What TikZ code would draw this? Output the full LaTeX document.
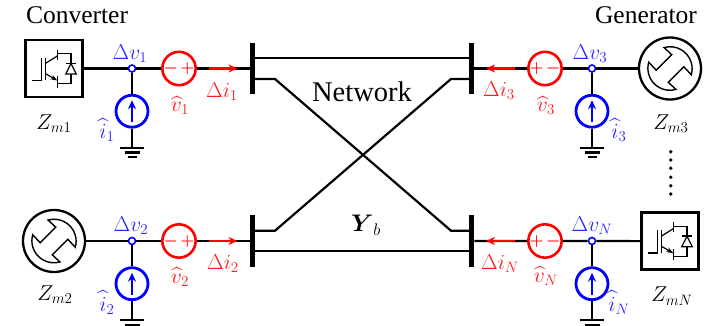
\documentclass[tikz,border=0pt]{standalone}
\usepackage{fix-cm}
\usepackage{amsmath}
\usepackage[no-math]{fontspec}
\setmainfont{Liberation Serif}
\usetikzlibrary{positioning, arrows.meta, calc}

\begin{document}
\begin{tikzpicture}[
    x=1pt, y=1pt,
    wire/.style={line width=2.2pt, black},
    bus/.style={
      rectangle, fill=black, inner sep=0pt,
      minimum width=5pt, minimum height=51.5pt,
    },
    convbox/.style={
      rectangle, draw=black, line width=2.6pt, inner sep=0pt,
      minimum size=57pt,
    },
    genbox/.style={
      circle, draw=black, line width=2.3pt, inner sep=0pt,
      minimum size=62pt,
    },
    dotnode/.style={
      circle, draw=blue, line width=1.6pt, fill=white, inner sep=0pt,
      minimum size=7pt,
    },
    csrc/.style={
      circle, draw=blue, line width=2.8pt, fill=white, inner sep=0pt,
      minimum size=32pt,
    },
    vsrc/.style={
      circle, draw=red, line width=2.6pt, fill=white, inner sep=0pt,
      minimum size=32pt, text=red, font=\fontsize{16}{18}\selectfont,
    },
    csarrow/.style={-{Stealth[length=9pt, width=8pt]}, line width=2.2pt, blue},
    current/.style={-{Stealth[length=9pt, width=8pt]}, line width=2.4pt, red},
    mathlabel/.style={font=\fontsize{21.5}{24}\selectfont, inner sep=0pt},
    bluelabel/.style={mathlabel, text=blue!85!white},
    redlabel/.style={mathlabel, text=red!90!white},
    title/.style={font=\fontsize{25.5}{30}\selectfont, inner sep=0pt},
    vdot/.style={circle, fill=black, inner sep=0pt, minimum size=3.8pt},
    glyph/.style={line width=1.2pt, black},
    ground/.pic={
      \draw[line width=2.4pt] (-11.7,0) -- (11.7,0);
      \draw[line width=2.2pt] (-7.5,-4.7) -- (7.5,-4.7);
      \draw[line width=2.2pt] (-4.5,-9.4) -- (4.5,-9.4);
    },
    igbt/.pic={
      \draw[glyph] (-22.3,-11.7) -- (-12.3,-11.7) -- (-12.3,11);
      \draw[line width=1.6pt] (-8.7,11) -- (-8.7,-11.7);
      \draw[glyph] (-8.7,5) -- (3.3,12.5);
      \draw[glyph] (3.3,19) -- (3.3,9);
      \draw[glyph] (3.3,15) -- (17,15) -- (17,-15) -- (3.3,-15);
      \draw[glyph] (3.3,-7.7) -- (3.3,-19);
      \draw[glyph, -{Stealth[length=7pt, width=5pt]}] (-8.7,-5) -- (3.3,-12);
      \draw[glyph, fill=white] (11.7,-5.5) -- (22.3,-5.5) -- (17,5) -- cycle;
      \draw[line width=1.5pt] (11.7,5) -- (22.3,5);
    },
    rotor/.pic={
      \draw[line width=1.4pt, rotate=45]
        (11,8.5) -- (10.6,19) arc[start angle=61, end angle=-61, radius=22]
        -- (11,-8.5) -- (-11,-8.5) -- (-10.6,-19)
        arc[start angle=241, end angle=119, radius=22]
        -- (-11,8.5) -- cycle;
    },
]
\useasboundingbox (0,0) rectangle (716,325);

% Buses of the network
\node[bus] (busA) at (252.3,256.5) {};
\node[bus] (busB) at (252.3,84) {};
\node[bus] (busC) at (471.7,256.5) {};
\node[bus] (busN) at (471.7,84) {};

% Network branches
\draw[wire] ([yshift=10.5pt]busA.east) -- ([yshift=10.5pt]busC.west);
\draw[wire] ([yshift=-10pt]busB.east) -- ([yshift=-10pt]busN.west);
\draw[wire] ([yshift=-10.5pt]busA.east) -- ++(20,0) -- ($(busN.west)+(-18,10.3)$) -- ([yshift=10.3pt]busN.west);
\draw[wire] ([yshift=10.3pt]busB.east) -- ++(20,0) -- ($(busC.west)+(-18,-10.5)$) -- ([yshift=-10.5pt]busC.west);
\node[font=\fontsize{28.5}{32}\selectfont, inner sep=0pt] (netname) at (362,233) {Network};
\node[font=\fontsize{24}{28}\selectfont, inner sep=0pt] (netY) at (366,100) {$\boldsymbol{Y}_b$};

% Port 1
\node[convbox] (dev1) at (54,256.5) {};
\pic at (dev1) {igbt};
\node[dotnode] (dot1) at (132,256.5) {};
\node[csrc, below=21pt of dot1] (cs1) {};
\node[vsrc] (vs1) at (179,256.5) {$\boldsymbol{-}\,\boldsymbol{+}$};
\coordinate (gnd1) at ($(cs1)+(0,-36.5)$);
\coordinate (ia1) at (209,256.5);
\coordinate (ib1) at (237.5,256.5);
\draw[wire] (dev1) -- (dot1) -- (vs1) -- (busA);
\draw[wire] (dot1) -- (cs1) -- (gnd1);
\pic at (gnd1) {ground};
\draw[current] (ia1) -- (ib1);
\draw[csarrow] ([yshift=-11pt]cs1.center) -- ([yshift=11pt]cs1.center);
\node[bluelabel] (dv1) at ($(dot1)+(-2,14.5)$) {$\Delta v_1$};
\node[bluelabel] (ih1) at ($(cs1)+(-25,-19)$) {$\widehat{i}_1$};
\node[redlabel] (vh1) at ($(vs1)+(1,-37)$) {$\widehat{v}_1$};
\node[redlabel] (di1) at ($(vs1)+(43,-23)$) {$\Delta i_1$};
\node[mathlabel] (Z1) at ($(dev1)+(0,-55.5)$) {$Z_{m1}$};
\node[title] (conv) at (77,310) {Converter};

% Port 2
\node[genbox] (dev2) at (54,84) {};
\pic at (dev2) {rotor};
\node[dotnode] (dot2) at (132,84) {};
\node[csrc, below=21pt of dot2] (cs2) {};
\node[vsrc] (vs2) at (179,84) {$\boldsymbol{-}\,\boldsymbol{+}$};
\coordinate (gnd2) at ($(cs2)+(0,-36.5)$);
\coordinate (ia2) at (209,84);
\coordinate (ib2) at (237.5,84);
\draw[wire] (dev2) -- (dot2) -- (vs2) -- (busB);
\draw[wire] (dot2) -- (cs2) -- (gnd2);
\pic at (gnd2) {ground};
\draw[current] (ia2) -- (ib2);
\draw[csarrow] ([yshift=-11pt]cs2.center) -- ([yshift=11pt]cs2.center);
\node[bluelabel] (dv2) at ($(dot2)+(-1,15)$) {$\Delta v_2$};
\node[bluelabel] (ih2) at ($(cs2)+(-25,-19)$) {$\widehat{i}_2$};
\node[redlabel] (vh2) at ($(vs2)+(1,-36)$) {$\widehat{v}_2$};
\node[redlabel] (di2) at ($(vs2)+(44,-23)$) {$\Delta i_2$};
\node[mathlabel] (Z2) at ($(dev2)+(1,-53.5)$) {$Z_{m2}$};

% Port 3
\node[genbox] (dev3) at (670,256.5) {};
\pic at (dev3) {rotor};
\node[dotnode] (dot3) at (592,256.5) {};
\node[csrc, below=21pt of dot3] (cs3) {};
\node[vsrc] (vs3) at (545,256.5) {$\boldsymbol{+}\,\boldsymbol{-}$};
\coordinate (gnd3) at ($(cs3)+(0,-36.5)$);
\coordinate (ia3) at (514.5,256.5);
\coordinate (ib3) at (486,256.5);
\draw[wire] (dev3) -- (dot3) -- (vs3) -- (busC);
\draw[wire] (dot3) -- (cs3) -- (gnd3);
\pic at (gnd3) {ground};
\draw[current] (ia3) -- (ib3);
\draw[csarrow] ([yshift=-11pt]cs3.center) -- ([yshift=11pt]cs3.center);
\node[bluelabel] (dv3) at ($(dot3)+(-2,14.5)$) {$\Delta v_3$};
\node[bluelabel] (ih3) at ($(cs3)+(27,-19)$) {$\widehat{i}_3$};
\node[redlabel] (vh3) at ($(vs3)+(1,-37)$) {$\widehat{v}_3$};
\node[redlabel] (di3) at ($(vs3)+(-46,-22.5)$) {$\Delta i_3$};
\node[mathlabel] (Z3) at ($(dev3)+(1,-55.5)$) {$Z_{m3}$};
\node[title] (gener) at (646,310) {Generator};

% Dots between the ports
\node[vdot] (gap1) at (670.7,173.3) {};
\node[vdot] (gap2) at (670.7,165) {};
\node[vdot] (gap3) at (670.7,156.7) {};
\node[vdot] (gap4) at (670.7,147.7) {};
\node[vdot] (gap5) at (670.7,139.3) {};
\node[vdot] (gap6) at (670.7,131) {};

% Port N
\node[convbox] (devN) at (670,83.8) {};
\pic at (devN) {igbt};
\node[dotnode] (dotN) at (592,84) {};
\node[csrc, below=21pt of dotN] (csN) {};
\node[vsrc] (vsN) at (545,84) {$\boldsymbol{+}\,\boldsymbol{-}$};
\coordinate (gndN) at ($(csN)+(0,-36.5)$);
\coordinate (iaN) at (514.5,84);
\coordinate (ibN) at (486,84);
\draw[wire] (devN) -- (dotN) -- (vsN) -- (busN);
\draw[wire] (dotN) -- (csN) -- (gndN);
\pic at (gndN) {ground};
\draw[current] (iaN) -- (ibN);
\draw[csarrow] ([yshift=-11pt]csN.center) -- ([yshift=11pt]csN.center);
\node[bluelabel] (dvN) at ($(dotN)+(0,15)$) {$\Delta v_N$};
\node[bluelabel] (ihN) at ($(csN)+(27,-19)$) {$\widehat{i}_N$};
\node[redlabel] (vhN) at ($(vsN)+(1,-35)$) {$\widehat{v}_N$};
\node[redlabel] (diN) at ($(vsN)+(-45,-23)$) {$\Delta i_N$};
\node[mathlabel] (ZN) at ($(devN)+(2,-55)$) {$Z_{mN}$};
\end{tikzpicture}
\end{document}
